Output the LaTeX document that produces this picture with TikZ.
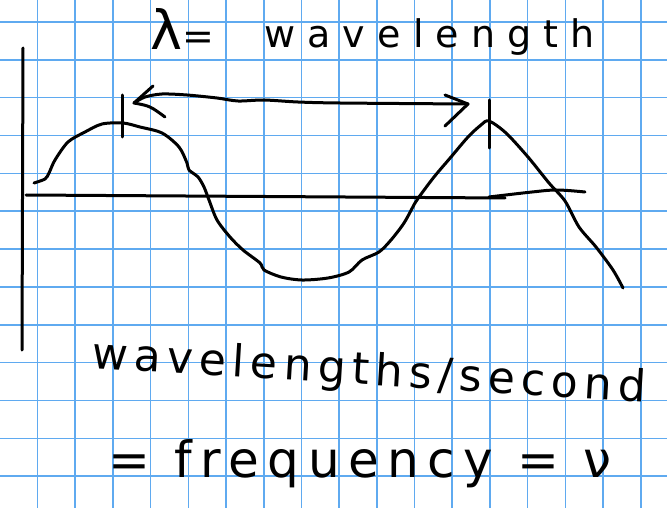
\documentclass[tikz,border=0pt]{standalone}
\usepackage{fontspec}
\newfontfamily\manina{DejaVu Sans}
\definecolor{quadretto}{RGB}{95,170,240}
\begin{document}
\begin{tikzpicture}[
        x=1pt, y=-1pt,
        % Stile per la griglia del quaderno (azzurra)
        gridline/.style={quadretto, line width=1.6pt},
        % Stile per i tratti a penna (neri)
        pen/.style={black, line width=3pt, line cap=round, line join=round},
        % Stile per le scritte a mano
        scritta/.style={inner sep=0pt, anchor=base west, text=black}
    ]

        \useasboundingbox (0,0) rectangle (667,508);
        \fill[white] (0,0) rectangle (667,508);

        % --- GRIGLIA ---
        \foreach \i in {0,...,16}
            \draw[gridline] ({37.5+37.7*\i},0) -- ++(0,508);
        \foreach \j in {0,...,12}
            \draw[gridline] (0,{22+37.85*\j}) -- ++(667,0);

        % --- ASSI ---
        \draw[pen] (23,48) -- (22,350);
        \draw[pen] (26,195) -- (505,198);
        \draw[pen] plot[smooth, tension=0.6] coordinates {(489,197) (532,192) (557,190) (585,192)};

        % --- ONDA ---
        \draw[pen] plot[smooth, tension=0.5] coordinates {
            (34,183) (45,179) (49,173) (55,160) (68,142) (85,132) (102,124) (123,123)
            (140,127) (162,133) (179,147) (187,163) (189,170) (198,177) (204,187)
            (209,200) (217,220) (230,237) (243,250) (260,263) (264,270) (281,277)
            (302,280) (328,278) (349,272) (362,260) (379,252) (391,240) (404,223)
            (415,203) (419,197) (434,177) (451,157) (468,137) (481,125) (489,121)
            (506,133) (528,157) (549,183) (565,201) (579,227) (596,247) (613,270)
            (623,288)};

        % --- TACCHE E FRECCIA (lunghezza d'onda) ---
        \draw[pen] (122,95) -- (122,137);
        \draw[pen] (489,100) -- (489,148);
        \coordinate (punta1) at (134,103);
        \coordinate (punta2) at (468,104);
        \draw[pen] plot[smooth, tension=0.5] coordinates {
            (134,103) (145,97) (162,94) (187,95) (217,98) (238,101) (264,100)
            (298,102) (340,103) (468,104)};
        \draw[pen] (153,86) -- (punta1) .. controls (150,106) .. (165,117);
        \draw[pen] (445,95) -- (punta2) -- (445,126);

        % --- SCRITTE ---
        \node[scritta, font=\manina\fontsize{38}{38}\selectfont]
            (lambda) at (150,50) {{\fontsize{54}{54}\selectfont λ}=};
        \node[scritta, font=\manina\fontsize{38}{38}\selectfont\addfontfeature{LetterSpace=32}]
            (nome) at (264,48) {wavelength};
        \node[scritta, rotate=-3.5, font=\manina\fontsize{44}{44}\selectfont\addfontfeature{LetterSpace=14}]
            (persecondo) at (91,368) {wavelengths/second};
        \node[scritta, font=\manina\fontsize{50}{50}\selectfont\addfontfeature{LetterSpace=17}]
            (frequenza) at (108,477) {= frequency = ν};

    \end{tikzpicture}
\end{document}
